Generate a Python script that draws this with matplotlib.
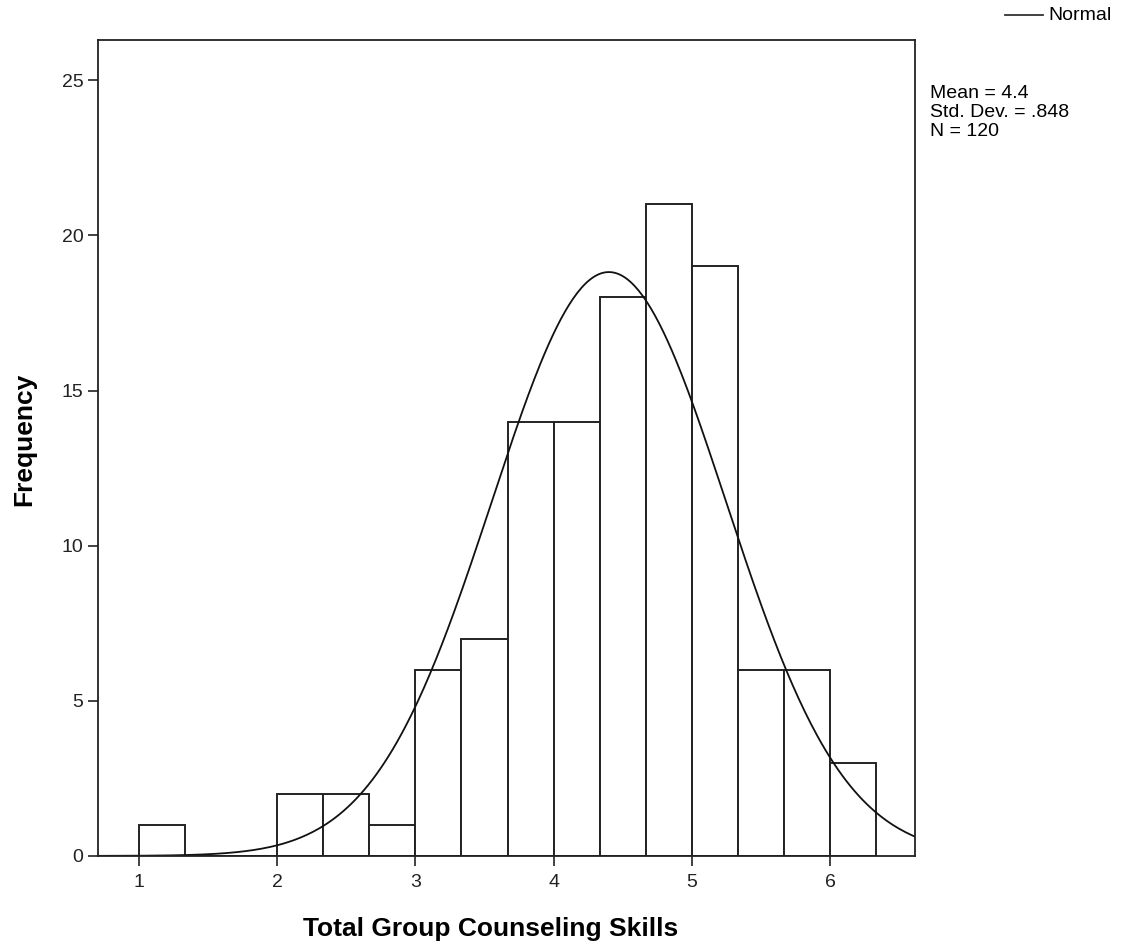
import numpy as np
import matplotlib
matplotlib.use("Agg")
import matplotlib.pyplot as plt

plt.rcParams['font.family'] = ['Liberation Sans', 'DejaVu Sans']

# bins of width 1/3 starting at 1
bin_left = [1 + i / 3 for i in range(16)]
counts = [1, 0, 0, 2, 2, 1, 6, 7, 14, 14, 18, 21, 19, 6, 6, 3]
mean = 4.4
sd = 0.848
n = 120
bin_width = 1 / 3

fig = plt.figure(figsize=(11.26, 9.51), dpi=100)
ax = fig.add_axes([0.087, 0.1, 0.7256, 0.858])

ax.bar(bin_left, counts, width=bin_width, align='edge',
       facecolor='white', edgecolor='#222222', linewidth=1.4)

# normal curve scaled to counts
x = np.linspace(0.7, 6.62, 400)
y = n * bin_width / (sd * np.sqrt(2 * np.pi)) * np.exp(-0.5 * ((x - mean) / sd) ** 2)
ax.plot(x, y, color='#111111', linewidth=1.3)

ax.set_xlim(0.703, 6.615)
ax.set_ylim(0, 26.3)
ax.set_xticks([1, 2, 3, 4, 5, 6])
ax.set_yticks([0, 5, 10, 15, 20, 25])
ax.tick_params(direction='out', length=7, width=1.2, labelsize=14, colors='#222222')
ax.tick_params(axis='x', pad=6)
ax.tick_params(axis='y', pad=3.5)
for s in ax.spines.values():
    s.set_linewidth(1.3)
    s.set_color('#222222')

ax.set_xlabel("Total Group Counseling Skills", fontsize=19, fontweight='bold', labelpad=16)
ax.set_ylabel("Frequency", fontsize=19, fontweight='bold', labelpad=13)
ax.xaxis.set_label_coords(0.481, -0.075)
ax.yaxis.set_label_coords(-0.075, 0.511)

# legend and stats
fig.lines.append(plt.Line2D([0.8925, 0.926], [0.984, 0.984], color='#333333', linewidth=1.3,
                            transform=fig.transFigure))
fig.text(0.9307, 0.984, "Normal", fontsize=14, va='center', ha='left')
fig.text(0.826, 0.9106, "Mean = 4.4\nStd. Dev. = .848\nN = 120", fontsize=14,
         va='top', ha='left', linespacing=1.15)

fig.savefig("out.png", dpi=100)
